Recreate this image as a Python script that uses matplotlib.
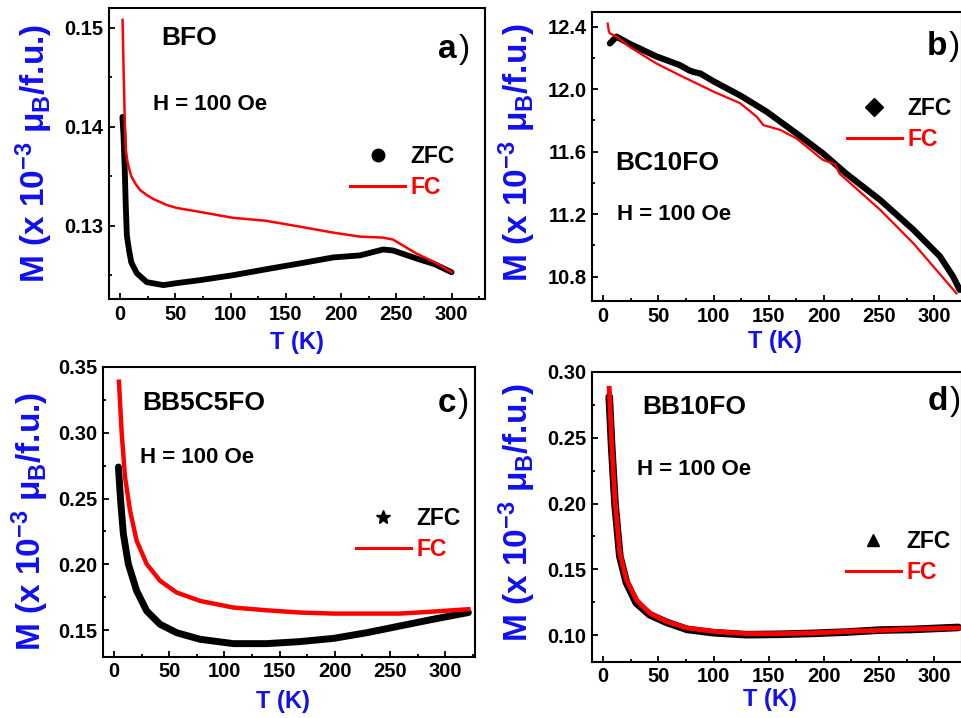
import matplotlib
matplotlib.use("Agg")
import matplotlib.pyplot as plt
from matplotlib.lines import Line2D
from matplotlib.ticker import MultipleLocator, FormatStrFormatter

plt.rcParams["font.family"] = ["Liberation Sans", "DejaVu Sans"]
plt.rcParams["font.weight"] = "bold"
plt.rcParams["mathtext.fontset"] = "custom"
plt.rcParams["mathtext.rm"] = "Liberation Sans:bold"
plt.rcParams["mathtext.it"] = "Liberation Sans:bold"
plt.rcParams["mathtext.bf"] = "Liberation Sans:bold"

# ---- data (T in K, M in 1e-3 muB/f.u.) ----
# a) BFO
a_T_zfc = [2, 3, 4, 5, 6, 8, 10, 15, 24, 39, 51, 72, 102, 132, 163, 193, 217, 238, 247, 268, 285, 300]
a_M_zfc = [0.1410, 0.1390, 0.1360, 0.1320, 0.1290, 0.1275, 0.1263, 0.1252, 0.1243, 0.1240, 0.1242,
           0.1245, 0.1250, 0.1256, 0.1262, 0.1268, 0.1270, 0.1276, 0.1275, 0.1267, 0.1261, 0.1253]
a_T_fc = [2.1, 3, 4, 5, 6.5, 8, 10, 14, 18, 24, 30, 42, 51, 72, 102, 132, 163, 193, 217, 238, 247, 268, 285, 300]
a_M_fc = [0.1508, 0.1460, 0.1410, 0.1377, 0.1365, 0.1358, 0.1350, 0.1342, 0.1336, 0.1331, 0.1327, 0.1321,
          0.1318, 0.1314, 0.1308, 0.1305, 0.1299, 0.1293, 0.1289, 0.1288, 0.1286, 0.1272, 0.1263, 0.1253]

# b) BC10FO
b_T_zfc = [6, 12, 24, 48, 69, 78, 82, 88, 100, 124, 148, 175, 199, 220, 251, 281, 305, 317, 323]
b_M_zfc = [12.293, 12.336, 12.29, 12.21, 12.155, 12.12, 12.11, 12.10, 12.05, 11.96, 11.856, 11.717,
           11.589, 11.46, 11.29, 11.10, 10.93, 10.80, 10.715]
b_T_fc = [4, 5, 6, 12, 24, 48, 69, 100, 124, 139, 145, 160, 175, 199, 210, 214, 251, 281, 320]
b_M_fc = [12.42, 12.37, 12.357, 12.336, 12.27, 12.165, 12.09, 11.984, 11.91, 11.824, 11.77, 11.74,
          11.685, 11.547, 11.52, 11.46, 11.227, 11.013, 10.693]

# c) BB5C5FO
c_T_zfc = [4, 6, 8.5, 13, 20.5, 29.6, 41.7, 56.7, 78, 108, 138, 168, 199, 229, 259, 289, 321]
c_M_zfc = [0.2739, 0.2485, 0.2231, 0.2003, 0.1800, 0.1647, 0.1546, 0.1482, 0.1432, 0.1399, 0.1399,
           0.1414, 0.1439, 0.1482, 0.1533, 0.1584, 0.1635]
c_T_fc = [4.5, 7, 10, 14.5, 20.5, 29.6, 41.7, 56.7, 78, 108, 138, 168, 199, 229, 259, 289, 321]
c_M_fc = [0.3386, 0.2992, 0.2663, 0.2409, 0.2180, 0.2003, 0.1876, 0.1787, 0.1723, 0.1673, 0.1652,
          0.1635, 0.1627, 0.1627, 0.1627, 0.1642, 0.1660]

# d) BB10FO
d_T_zfc = [5.4, 7.6, 10.6, 15, 21, 30, 42, 57, 76, 100, 130, 160, 190, 221, 251, 281, 322]
d_M_zfc = [0.2810, 0.2430, 0.2000, 0.1600, 0.1400, 0.1245, 0.1157, 0.1100, 0.1045, 0.1020, 0.1005,
           0.1008, 0.1015, 0.1025, 0.1040, 0.1045, 0.1060]
d_T_fc = [5.4, 7.6, 10.6, 15, 21, 30, 42, 57, 76, 100, 130, 160, 190, 221, 251, 281, 322]
d_M_fc = [0.2874, 0.2457, 0.2028, 0.1624, 0.1422, 0.1270, 0.1169, 0.1106, 0.1056, 0.1030, 0.1013,
          0.1013, 0.1018, 0.1030, 0.1038, 0.1048, 0.1056]

BLUE = "#1010f0"
RED = "#ff0000"
YLABEL = r"M (x 10$^{-3}$ $\mu_B$/f.u.)"


def style_axes(ax, xlim, ylim, ymajor, yfmt):
    ax.set_xlim(*xlim)
    ax.set_ylim(*ylim)
    ax.xaxis.set_major_locator(MultipleLocator(50))
    ax.xaxis.set_minor_locator(MultipleLocator(25))
    ax.yaxis.set_major_locator(MultipleLocator(ymajor))
    ax.yaxis.set_minor_locator(MultipleLocator(ymajor / 2))
    ax.yaxis.set_major_formatter(FormatStrFormatter(yfmt))
    ax.tick_params(which="both", direction="in", width=1.3, labelsize=14.5, pad=4)
    ax.tick_params(which="major", length=4)
    ax.tick_params(which="minor", length=2.5)
    for lab in ax.get_xticklabels() + ax.get_yticklabels():
        lab.set_fontweight("bold")
    for s in ax.spines.values():
        s.set_linewidth(1.5)


def panel_text(ax, name, name_xy, h_xy, letter, letter_xy):
    ax.text(*name_xy, name, transform=ax.transAxes, fontsize=19, fontweight="bold", va="baseline")
    ax.text(*h_xy, "H = 100 Oe", transform=ax.transAxes, fontsize=16, fontweight="bold", va="baseline")
    ax.text(*letter_xy, letter, transform=ax.transAxes, fontsize=24, fontweight="bold",
            ha="right", va="baseline")
    ax.text(letter_xy[0] + 0.005, letter_xy[1], ")", transform=ax.transAxes, fontsize=24,
            fontweight="normal", ha="left", va="baseline")


def add_legend(ax, marker, ms, anchor):
    handles = [Line2D([], [], ls="none", marker=marker, color="k", ms=ms),
               Line2D([], [], color=RED, lw=2.2)]
    ax.legend(handles, ["ZFC", "FC"], loc="center left", bbox_to_anchor=anchor, frameon=False,
              prop={"weight": "bold", "size": 16.5}, labelcolor=["black", RED],
              handlelength=2.4, handletextpad=0.25, labelspacing=0.35, borderpad=0, borderaxespad=0)


def labels(ax, ylab_xy, xlab_xy):
    ax.set_ylabel(YLABEL, color=BLUE, fontsize=24, fontweight="bold")
    ax.set_xlabel("T (K)", color=BLUE, fontsize=17, fontweight="bold")
    ax.yaxis.set_label_coords(*ylab_xy)
    ax.xaxis.set_label_coords(*xlab_xy)


fig = plt.figure(figsize=(9.61, 7.18), dpi=100)

ax_a = fig.add_axes([0.1134, 0.5836, 0.3913, 0.4053])
ax_b = fig.add_axes([0.6163, 0.5808, 0.3847, 0.4029])
ax_c = fig.add_axes([0.1069, 0.0854, 0.3874, 0.4039])
ax_d = fig.add_axes([0.6163, 0.0784, 0.3847, 0.4039])

# a)
ax_a.plot(a_T_zfc, a_M_zfc, color="k", lw=4.2, solid_joinstyle="round", solid_capstyle="round")
ax_a.plot(a_T_fc, a_M_fc, color=RED, lw=1.8)
style_axes(ax_a, (-10.2, 330.3), (0.1226, 0.152), 0.01, "%.2f")
panel_text(ax_a, "BFO", (0.138, 0.873), (0.116, 0.649), "a", (0.925, 0.827))
add_legend(ax_a, "o", 9, (0.641, 0.436))
labels(ax_a, (-0.144, 0.5), (0.5, -0.11))

# b)
ax_b.plot(b_T_zfc, b_M_zfc, color="k", lw=4.5, solid_joinstyle="round", solid_capstyle="round")
ax_b.plot(b_T_fc, b_M_fc, color=RED, lw=1.6)
style_axes(ax_b, (-10, 325), (10.644, 12.496), 0.4, "%.1f")
panel_text(ax_b, "BC10FO", (0.061, 0.453), (0.066, 0.280), "b", (0.9586, 0.850))
add_legend(ax_b, "D", 9, (0.688, 0.611))
labels(ax_b, (-0.147, 0.512), (0.494, -0.10))

# c)
ax_c.plot(c_T_zfc, c_M_zfc, color="k", lw=5, solid_joinstyle="round", solid_capstyle="round")
ax_c.plot(c_T_fc, c_M_fc, color=RED, lw=3.2)
style_axes(ax_c, (-10.2, 327), (0.13, 0.35), 0.05, "%.2f")
panel_text(ax_c, "BB5C5FO", (0.105, 0.851), (0.100, 0.667), "c", (0.949, 0.845))
add_legend(ax_c, "*", 10, (0.680, 0.423))
labels(ax_c, (-0.139, 0.466), (0.484, -0.115))

# d)
ax_d.plot(d_T_zfc, d_M_zfc, color="k", lw=5.5, solid_joinstyle="round", solid_capstyle="round")
ax_d.plot(d_T_fc, d_M_fc, color=RED, lw=3.5)
style_axes(ax_d, (-10, 325.3), (0.08, 0.30), 0.05, "%.2f")
panel_text(ax_d, "BB10FO", (0.136, 0.853), (0.120, 0.644), "d", (0.961, 0.868))
add_legend(ax_d, "^", 9, (0.685, 0.360))
labels(ax_d, (-0.147, 0.514), (0.48, -0.09))

fig.savefig("out.png", dpi=100)
